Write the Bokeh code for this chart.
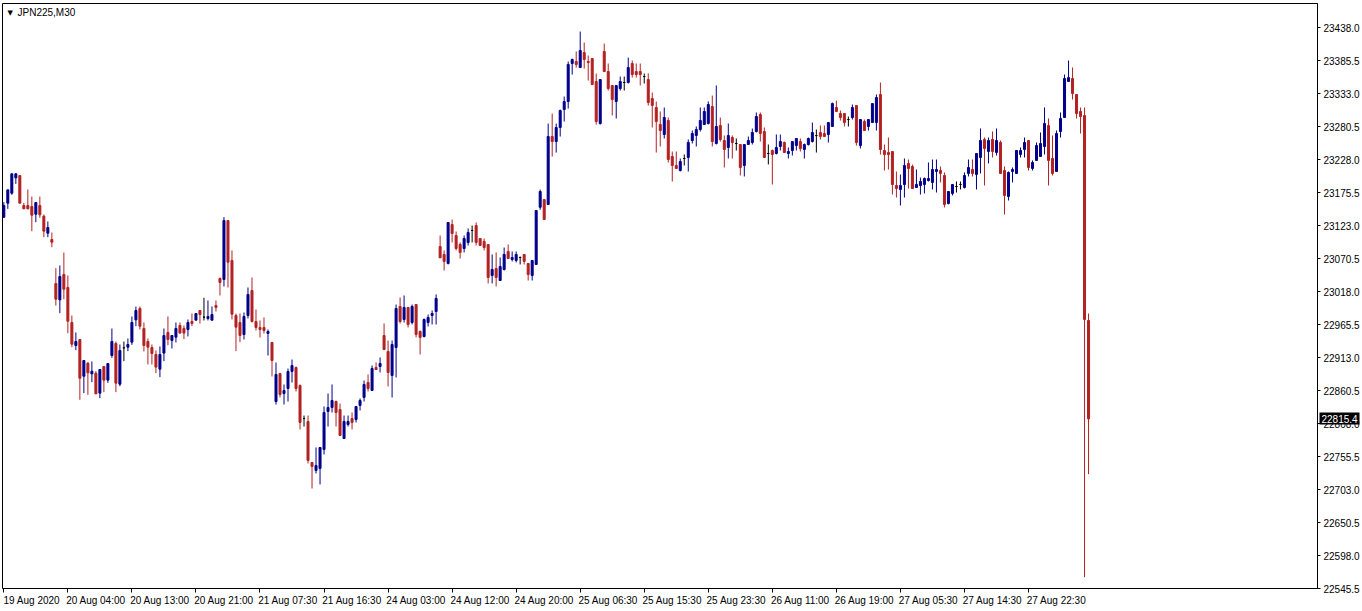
from bokeh.plotting import figure
from bokeh.models import FixedTicker, Label, ColumnDataSource, PrintfTickFormatter, Range1d, LinearAxis
from bokeh.embed import file_html
from bokeh.resources import INLINE

symbol_title = "JPN225,M30"

opens = [
    23136.2, 23158.5, 23174.4, 23198.8, 23202.5, 23154.8, 23154.8, 23153.2, 23141.0, 23154.8,
    23137.8, 23110.8, 23100.7, 23030.7, 23004.7, 23045.1, 23024.4, 22968.7, 22932.1, 22941.6,
    22883.3, 22904.0, 22887.0, 22888.1, 22856.3, 22898.7, 22877.0, 22916.2, 22935.3, 22870.6,
    22928.4, 22929.4, 22937.4, 22972.9, 22991.0, 22959.2, 22938.5, 22929.0, 22917.8, 22894.5,
    22920.0, 22952.8, 22940.1, 22945.4, 22964.0, 22959.2, 22957.6, 22970.3, 22972.4, 22987.8,
    22977.2, 22975.1, 22972.4, 22995.8, 23038.7, 23037.1, 23131.0, 23067.4, 22979.9, 22968.7,
    22949.6, 22979.9, 23019.6, 22970.3, 22960.8, 22960.8, 22951.2, 22936.9, 22843.0, 22887.6,
    22855.7, 22863.7, 22890.7, 22897.1, 22868.5, 22816.0, 22811.2, 22746.0, 22733.2, 22736.4,
    22766.7, 22827.1, 22833.5, 22843.0, 22830.3, 22784.1, 22806.4, 22816.0, 22814.4, 22836.7,
    22849.4, 22873.2, 22860.5, 22897.1, 22898.7, 22948.0, 22922.6, 22884.4, 22928.9, 22994.2,
    22973.5, 22992.6, 22968.7, 22997.3, 22954.4, 22946.4, 22968.7, 22979.9, 22986.2, 23089.6,
    23076.9, 23062.6, 23124.6, 23107.1, 23092.8, 23086.4, 23096.0, 23115.1, 23123.0, 23102.3,
    23097.6, 23092.8, 23043.5, 23054.6, 23035.5, 23053.0, 23081.7, 23069.0, 23067.4, 23072.1,
    23076.9, 23062.6, 23043.5, 23061.0, 23152.0, 23164.3, 23156.4, 23264.6, 23256.6, 23278.9,
    23307.5, 23320.2, 23380.7, 23383.9, 23374.3, 23398.2, 23383.9, 23388.6, 23352.1, 23285.2,
    23399.8, 23367.9, 23345.7, 23320.2, 23340.9, 23350.5, 23350.5, 23380.7, 23367.9, 23367.9,
    23360.0, 23355.2, 23325.0, 23310.7, 23283.7, 23267.8, 23290.1, 23232.8, 23218.5, 23210.5,
    23229.6, 23231.2, 23258.2, 23266.2, 23275.7, 23283.7, 23285.3, 23312.4, 23253.5, 23282.1,
    23258.2, 23247.1, 23263.0, 23253.5, 23251.9, 23218.5, 23251.9, 23255.1, 23272.5, 23299.6,
    23272.5, 23237.6, 23242.3, 23237.6, 23248.7, 23255.1, 23237.6, 23242.3, 23250.2, 23256.6,
    23243.9, 23251.8, 23256.6, 23266.1, 23270.9, 23269.3, 23267.7, 23280.5, 23310.7, 23301.1,
    23301.1, 23291.6, 23294.8, 23313.9, 23250.2, 23288.4, 23280.5, 23286.8, 23286.8, 23331.4,
    23242.3, 23239.1, 23240.7, 23186.6, 23180.2, 23188.2, 23221.6, 23216.8, 23183.4, 23186.6,
    23188.3, 23194.6, 23191.5, 23209.0, 23210.5, 23202.6, 23158.1, 23174.0, 23185.1, 23188.3,
    23183.5, 23205.8, 23212.1, 23204.2, 23231.2, 23259.9, 23240.8, 23259.9, 23239.2, 23255.1,
    23210.5, 23169.2, 23209.0, 23205.8, 23236.0, 23244.0, 23258.3, 23213.7, 23226.5, 23232.8,
    23248.7, 23282.1, 23229.6, 23209.0, 23272.5, 23294.8, 23352.1, 23356.9, 23331.4, 23304.4,
    23298.0, 22971.9,
]
highs = [
    23160.1, 23179.7, 23206.0, 23206.0, 23203.5, 23159.0, 23180.3, 23169.1, 23159.6, 23169.0,
    23140.5, 23129.4, 23111.9, 23055.1, 23059.4, 23080.0, 23043.5, 22979.8, 22952.8, 22942.0,
    22908.5, 22905.6, 22906.6, 22891.2, 22894.0, 22899.0, 22903.5, 22959.1, 22938.4, 22933.7,
    22938.4, 22943.2, 22978.2, 22994.1, 22994.2, 22968.7, 22943.3, 22933.7, 22924.2, 22930.5,
    22959.2, 22978.3, 22948.5, 22968.7, 22968.7, 22964.0, 22973.5, 22983.0, 22983.5, 22988.0,
    23008.0, 23003.7, 22994.2, 23003.7, 23040.3, 23136.3, 23131.5, 23083.3, 22983.0, 22983.0,
    22984.6, 23024.4, 23040.3, 22989.4, 22971.9, 22976.7, 22957.6, 22937.5, 22905.1, 22888.0,
    22870.1, 22895.5, 22909.8, 22898.7, 22870.1, 22820.7, 22820.7, 22746.5, 22769.9, 22770.0,
    22835.1, 22855.7, 22870.1, 22844.6, 22839.8, 22820.7, 22820.7, 22825.5, 22835.5, 22847.8,
    22876.4, 22886.0, 22900.3, 22905.1, 22913.0, 22967.1, 22940.1, 22940.1, 22997.3, 23008.5,
    23011.7, 22993.0, 22997.3, 22997.5, 22956.0, 22975.1, 22981.4, 22987.8, 23013.3, 23107.1,
    23083.3, 23128.0, 23132.6, 23113.5, 23096.0, 23107.1, 23118.3, 23123.0, 23127.8, 23102.5,
    23102.3, 23093.0, 23076.9, 23080.1, 23072.1, 23088.0, 23092.8, 23081.7, 23081.7, 23073.7,
    23077.0, 23063.0, 23067.5, 23147.0, 23180.2, 23164.5, 23285.2, 23301.1, 23285.2, 23307.5,
    23328.2, 23383.9, 23388.6, 23399.8, 23431.6, 23414.1, 23393.4, 23389.0, 23364.8, 23355.5,
    23412.5, 23380.7, 23346.0, 23346.0, 23360.0, 23360.0, 23390.2, 23385.5, 23380.7, 23380.7,
    23364.8, 23364.8, 23334.6, 23320.2, 23304.4, 23310.7, 23294.8, 23240.7, 23240.7, 23229.6,
    23236.0, 23259.8, 23274.1, 23280.5, 23310.7, 23310.7, 23320.3, 23329.8, 23345.7, 23294.8,
    23266.2, 23285.3, 23266.2, 23261.4, 23252.0, 23252.0, 23264.6, 23277.3, 23302.8, 23302.8,
    23278.9, 23251.9, 23243.9, 23267.8, 23267.8, 23256.6, 23247.1, 23256.8, 23261.5, 23261.4,
    23253.4, 23263.0, 23286.8, 23275.7, 23282.1, 23282.1, 23287.0, 23318.6, 23321.8, 23305.9,
    23301.3, 23296.4, 23315.5, 23314.0, 23291.8, 23291.6, 23291.8, 23317.2, 23331.4, 23350.5,
    23251.8, 23263.0, 23241.0, 23208.9, 23204.1, 23229.6, 23228.0, 23220.0, 23212.1, 23199.3,
    23199.4, 23223.3, 23228.0, 23228.0, 23216.9, 23207.4, 23177.3, 23188.5, 23193.0, 23193.0,
    23207.4, 23228.0, 23228.0, 23237.8, 23277.4, 23263.0, 23263.0, 23272.6, 23277.4, 23258.3,
    23216.9, 23209.0, 23215.3, 23242.6, 23247.1, 23263.0, 23258.5, 23226.5, 23255.1, 23271.0,
    23310.8, 23293.3, 23266.2, 23274.2, 23302.8, 23363.2, 23385.5, 23374.4, 23331.6, 23310.7,
    23310.7, 22983.0,
]
lows = [
    23135.2, 23149.5, 23172.0, 23189.3, 23158.5, 23149.5, 23149.0, 23114.0, 23128.3, 23135.2,
    23104.4, 23104.4, 23088.5, 22995.7, 22983.5, 23005.8, 22951.7, 22929.4, 22924.7, 22845.7,
    22856.3, 22853.6, 22873.8, 22855.0, 22848.3, 22857.9, 22872.7, 22912.5, 22857.9, 22867.4,
    22907.2, 22923.1, 22933.1, 22962.8, 22957.6, 22922.6, 22901.9, 22901.9, 22888.1, 22881.8,
    22907.2, 22932.6, 22927.4, 22936.9, 22951.5, 22942.2, 22946.5, 22962.9, 22972.0, 22967.1,
    22971.9, 22971.9, 22972.0, 22986.2, 23011.7, 23026.0, 23024.4, 22973.5, 22923.1, 22937.4,
    22941.7, 22975.1, 22968.7, 22956.0, 22944.9, 22951.2, 22916.2, 22882.8, 22838.2, 22849.4,
    22838.2, 22843.0, 22873.2, 22858.9, 22798.5, 22803.2, 22744.4, 22704.6, 22728.5, 22711.0,
    22758.7, 22803.2, 22825.5, 22803.2, 22788.5, 22784.0, 22803.2, 22798.5, 22809.6, 22828.7,
    22843.0, 22858.9, 22860.0, 22893.5, 22889.1, 22925.5, 22866.9, 22849.4, 22881.2, 22967.1,
    22968.7, 22960.8, 22965.5, 22944.9, 22917.8, 22944.9, 22962.4, 22965.5, 22965.5, 23071.5,
    23051.4, 23061.0, 23096.0, 23083.3, 23070.5, 23080.1, 23091.2, 23096.0, 23091.2, 23091.0,
    23083.3, 23030.8, 23030.8, 23026.0, 23035.0, 23051.4, 23070.3, 23065.8, 23064.2, 23061.0,
    23061.0, 23035.5, 23035.5, 23060.5, 23148.0, 23132.3, 23156.0, 23232.7, 23239.1, 23264.6,
    23288.4, 23309.1, 23363.2, 23374.3, 23374.0, 23372.7, 23353.6, 23347.0, 23283.6, 23283.6,
    23367.5, 23337.7, 23298.0, 23293.2, 23337.7, 23337.7, 23348.9, 23358.4, 23358.4, 23345.7,
    23348.9, 23313.9, 23278.9, 23239.1, 23248.7, 23261.4, 23223.2, 23193.0, 23213.5, 23208.9,
    23218.5, 23208.9, 23253.5, 23248.7, 23272.5, 23283.5, 23283.7, 23248.7, 23251.9, 23256.6,
    23215.3, 23229.6, 23229.6, 23242.3, 23202.6, 23201.0, 23251.5, 23251.9, 23271.0, 23256.6,
    23231.0, 23220.1, 23188.2, 23236.0, 23242.3, 23239.0, 23229.6, 23234.3, 23242.3, 23240.7,
    23229.6, 23250.2, 23255.0, 23239.1, 23259.8, 23264.5, 23255.0, 23280.3, 23304.2, 23290.0,
    23280.5, 23280.5, 23291.6, 23250.2, 23245.5, 23274.0, 23274.1, 23286.6, 23274.1, 23235.9,
    23210.5, 23212.1, 23172.3, 23167.5, 23154.8, 23167.5, 23181.8, 23181.6, 23183.2, 23172.3,
    23174.0, 23193.0, 23180.3, 23175.5, 23191.5, 23151.7, 23156.5, 23170.8, 23175.5, 23180.3,
    23181.9, 23201.0, 23201.0, 23180.3, 23205.8, 23186.7, 23221.7, 23231.2, 23234.4, 23205.6,
    23140.5, 23162.8, 23191.5, 23205.6, 23231.2, 23231.2, 23210.5, 23210.5, 23226.3, 23232.6,
    23236.0, 23186.7, 23202.6, 23208.8, 23263.0, 23294.6, 23352.0, 23323.4, 23293.2, 23269.4,
    22563.5, 22727.4,
]
closes = [
    23154.8, 23179.7, 23205.2, 23205.2, 23158.5, 23149.5, 23149.5, 23139.4, 23159.6, 23140.0,
    23114.0, 23119.8, 23096.5, 23005.8, 23041.9, 23021.7, 22970.8, 22934.2, 22938.4, 22880.1,
    22908.2, 22888.6, 22891.2, 22855.2, 22893.9, 22877.0, 22903.4, 22938.4, 22872.2, 22924.1,
    22928.4, 22933.7, 22968.7, 22987.8, 22962.9, 22932.1, 22929.5, 22919.4, 22897.7, 22917.8,
    22948.0, 22941.7, 22948.0, 22959.2, 22951.8, 22951.8, 22968.7, 22967.1, 22983.0, 22981.4,
    22977.2, 22978.3, 22981.4, 22992.6, 23032.4, 23131.0, 23064.7, 22982.0, 22961.3, 22948.0,
    22978.3, 23013.3, 22970.3, 22960.8, 22957.6, 22956.0, 22954.4, 22908.2, 22886.0, 22854.1,
    22860.5, 22890.7, 22900.3, 22863.7, 22809.6, 22816.0, 22749.2, 22739.6, 22741.2, 22769.9,
    22825.5, 22833.5, 22844.6, 22825.5, 22788.9, 22811.2, 22811.2, 22809.6, 22835.1, 22844.6,
    22870.1, 22863.7, 22895.5, 22893.9, 22903.5, 22925.7, 22889.1, 22933.7, 22991.0, 22970.3,
    22992.6, 22965.5, 22994.2, 22949.6, 22944.9, 22973.5, 22976.7, 22983.0, 23006.9, 23071.6,
    23065.8, 23127.8, 23110.3, 23086.4, 23080.1, 23102.3, 23111.9, 23115.1, 23096.0, 23091.2,
    23088.0, 23040.3, 23053.0, 23040.3, 23057.8, 23076.9, 23070.5, 23072.1, 23076.9, 23072.1,
    23065.8, 23045.1, 23067.4, 23146.9, 23177.1, 23132.5, 23264.6, 23256.6, 23278.9, 23305.9,
    23320.2, 23379.1, 23387.1, 23379.1, 23401.4, 23387.1, 23382.3, 23347.3, 23288.4, 23355.2,
    23367.9, 23340.9, 23323.4, 23345.7, 23352.1, 23350.5, 23374.3, 23363.2, 23363.2, 23363.2,
    23360.0, 23318.6, 23313.9, 23288.4, 23274.1, 23294.8, 23228.0, 23218.5, 23213.7, 23224.8,
    23229.6, 23255.1, 23269.4, 23275.7, 23290.1, 23304.4, 23315.5, 23256.6, 23280.5, 23259.8,
    23243.9, 23266.2, 23255.1, 23253.5, 23215.3, 23251.9, 23258.2, 23271.0, 23296.4, 23269.4,
    23231.2, 23237.6, 23236.0, 23247.1, 23256.6, 23239.1, 23240.7, 23256.6, 23261.4, 23245.5,
    23251.8, 23261.4, 23270.9, 23266.1, 23264.6, 23264.6, 23286.8, 23317.0, 23304.3, 23294.8,
    23286.8, 23291.6, 23310.7, 23255.0, 23291.6, 23274.1, 23291.6, 23317.0, 23326.6, 23243.9,
    23235.9, 23235.9, 23188.2, 23181.8, 23186.6, 23218.4, 23213.7, 23181.8, 23188.2, 23193.0,
    23197.8, 23197.8, 23212.1, 23212.1, 23205.8, 23156.5, 23177.1, 23188.3, 23185.1, 23188.3,
    23202.6, 23215.3, 23205.8, 23237.6, 23258.3, 23245.5, 23258.3, 23240.8, 23258.3, 23205.8,
    23170.8, 23207.4, 23212.1, 23242.4, 23242.4, 23255.1, 23215.3, 23223.3, 23250.3, 23253.5,
    23285.3, 23226.5, 23205.8, 23269.4, 23293.2, 23356.9, 23358.4, 23333.0, 23301.2, 23296.4,
    22973.5, 22815.4,
]

date_labels = [
    "19 Aug 2020", "20 Aug 04:00", "20 Aug 13:00", "20 Aug 21:00", "21 Aug 07:30",
    "21 Aug 16:30", "24 Aug 03:00", "24 Aug 12:00", "24 Aug 20:00", "25 Aug 06:30",
    "25 Aug 15:30", "25 Aug 23:30", "26 Aug 11:00", "26 Aug 19:00", "27 Aug 05:30",
    "27 Aug 14:30", "27 Aug 22:30",
]
price_ticks = [
    22545.5, 22598.0, 22650.5, 22703.0, 22755.5, 22808.0, 22860.5, 22913.0, 22965.5,
    23018.0, 23070.5, 23123.0, 23175.5, 23228.0, 23280.5, 23333.0, 23385.5, 23438.0,
]

BULL = "#00008B"
BEAR = "#B22222"
DOJI = "#000000"

n = len(opens)
idx = list(range(n))
colors = [BULL if c > o else (BEAR if c < o else DOJI) for o, c in zip(opens, closes)]
src = ColumnDataSource(dict(x=idx, o=opens, h=highs, l=lows, c=closes, col=colors,
                            top=[max(o, c) for o, c in zip(opens, closes)],
                            bot=[min(o, c) for o, c in zip(opens, closes)]))

X0, X1 = -0.33, 328.2
Y0, Y1 = 22545.5, 23476.2

p = figure(width=1362, height=611, output_backend="svg", toolbar_location=None,
           x_range=Range1d(X0, X1), y_range=Range1d(Y0, Y1), y_axis_location="right",
           min_border_left=2, min_border_top=3, min_border_right=1, min_border_bottom=23)
p.outline_line_color = "black"
p.outline_line_width = 1
p.grid.visible = False
p.background_fill_color = "white"
p.border_fill_color = "white"

p.segment(x0="x", x1="x", y0="l", y1="h", source=src, line_color="col", line_width=1)
p.vbar(x="x", top="top", bottom="bot", width=0.5, source=src,
       fill_color="col", line_color="col", line_width=1)

FONT = "Liberation Sans"

ya = p.yaxis[0]
ya.ticker = FixedTicker(ticks=price_ticks)
ya.formatter = PrintfTickFormatter(format="%.1f")
ya.major_tick_out = 3
ya.major_tick_in = 0
ya.minor_tick_out = 0
ya.minor_tick_in = 0
ya.major_label_standoff = 3
ya.axis_line_color = "black"
ya.major_tick_line_color = "black"
ya.major_label_text_font = FONT
ya.major_label_text_font_size = "10px"
ya.major_label_text_color = "black"

# current price marker: a second right axis whose single tick is drawn as a black box
last_axis = LinearAxis(ticker=FixedTicker(ticks=[closes[-1]]),
                       formatter=PrintfTickFormatter(format="%.1f"))
last_axis.axis_line_color = None
last_axis.minor_tick_line_color = None
last_axis.major_tick_out = -3
last_axis.major_tick_in = 43
last_axis.major_tick_line_width = 12
last_axis.major_tick_line_color = "black"
last_axis.major_label_standoff = -41
last_axis.major_label_text_font = FONT
last_axis.major_label_text_font_size = "10px"
last_axis.major_label_text_color = "white"
p.add_layout(last_axis, "right")

label_step = 16
label_pos = [k * label_step for k in range(len(date_labels))]
centers = [pos + 7 for pos in label_pos]
xa = p.xaxis[0]
xa.ticker = FixedTicker(ticks=centers, minor_ticks=label_pos)
xa.major_label_overrides = {c: t for c, t in zip(centers, date_labels)}
xa.major_tick_out = 0
xa.major_tick_in = 0
xa.minor_tick_out = 4
xa.minor_tick_in = 0
xa.minor_tick_line_color = "black"
xa.major_label_standoff = 2
xa.axis_line_color = None
xa.major_label_text_font = FONT
xa.major_label_text_font_size = "10px"
xa.major_label_text_color = "black"

p.add_layout(Label(x=X0, y=Y1, x_offset=5, y_offset=-5, text="\u25bc", text_font="DejaVu Sans",
                   text_font_size="7px", text_baseline="top", text_color="black"))
p.add_layout(Label(x=X0, y=Y1, x_offset=15, y_offset=-3, text=symbol_title, text_font=FONT,
                   text_font_size="10px", text_baseline="top", text_color="black"))

open("out.html", "w").write(file_html(p, INLINE))
